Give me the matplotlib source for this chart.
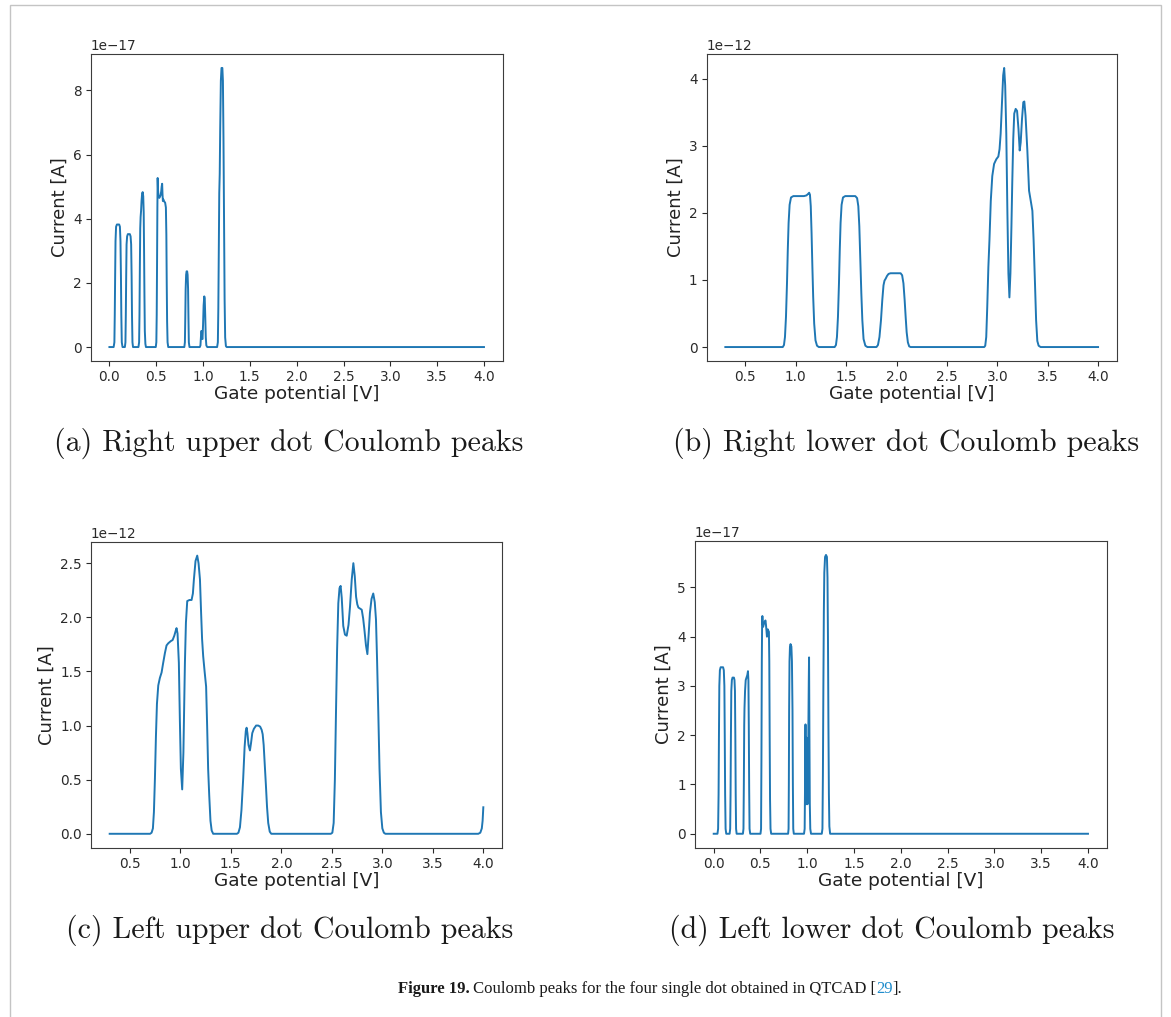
import matplotlib
matplotlib.use("Agg")
import matplotlib.pyplot as plt
from matplotlib.patches import Rectangle
import numpy as np

W, H = 1171, 1017

# (a) Right upper dot: gate potential [V] and current [1e-17 A]
ru_v = [0.000, 0.045, 0.053, 0.057, 0.061, 0.065, 0.071, 0.080, 0.104, 0.112, 0.118, 0.123, 0.127, 0.132, 0.140,
        0.165, 0.171, 0.175, 0.179, 0.183, 0.189, 0.197, 0.218, 0.226, 0.232, 0.237, 0.241, 0.246, 0.252,
        0.310, 0.317, 0.321, 0.325, 0.329, 0.333, 0.338, 0.343, 0.349, 0.355, 0.361, 0.366, 0.370, 0.374, 0.378, 0.384, 0.390,
        0.495, 0.501, 0.505, 0.509, 0.512, 0.515, 0.519, 0.524, 0.533, 0.545, 0.553, 0.558, 0.563, 0.567, 0.571, 0.576,
        0.582, 0.595, 0.603, 0.608, 0.612, 0.616, 0.621, 0.628,
        0.800, 0.806, 0.810, 0.814, 0.819, 0.824, 0.830, 0.835, 0.840, 0.844, 0.848, 0.855,
        0.965, 0.972, 0.978, 0.981, 0.986, 0.990, 0.994, 1.000, 1.006, 1.013, 1.018, 1.023, 1.029, 1.035, 1.045,
        1.150, 1.158, 1.163, 1.168, 1.173, 1.178, 1.183, 1.190, 1.197, 1.206, 1.212, 1.218, 1.224, 1.230, 1.236, 1.244, 1.252,
        4.000]
ru_i = [0, 0, 0.15, 1.0, 2.2, 3.3, 3.75, 3.82, 3.82, 3.75, 3.3, 2.2, 1.0, 0.15, 0,
        0, 0.15, 1.0, 2.2, 3.2, 3.45, 3.52, 3.52, 3.45, 3.2, 2.2, 1.0, 0.15, 0,
        0, 0.15, 1.0, 2.5, 3.7, 4.05, 4.25, 4.55, 4.78, 4.83, 4.7, 4.2, 3.0, 1.6, 0.5, 0.1, 0,
        0, 0.15, 1.0, 2.8, 4.3, 5.27, 4.9, 4.7, 4.65, 4.72, 4.85, 5.0, 5.09, 4.75, 4.55, 4.6,
        4.55, 4.5, 4.35, 3.5, 2.0, 0.8, 0.15, 0,
        0, 0.15, 0.9, 1.8, 2.25, 2.36, 2.36, 2.25, 1.8, 0.9, 0.15, 0,
        0, 0.05, 0.35, 0.5, 0.5, 0.25, 0.25, 0.7, 1.3, 1.58, 1.5, 1.0, 0.3, 0.05, 0,
        0, 0.15, 1.2, 3.0, 4.8, 5.4, 6.8, 8.3, 8.7, 8.7, 8.3, 6.5, 4.0, 1.5, 0.3, 0.03, 0,
        0]

# (b) Right lower dot: gate potential [V] and current [1e-12 A]
rl_v = [0.300, 0.870, 0.882, 0.892, 0.902, 0.912, 0.920, 0.928, 0.938, 0.952, 0.975, 1.080, 1.105, 1.120, 1.132,
        1.140, 1.148, 1.156, 1.164, 1.172, 1.182, 1.195, 1.210, 1.228,
        1.385, 1.398, 1.408, 1.418, 1.428, 1.436, 1.444, 1.454, 1.468, 1.490, 1.590, 1.608, 1.620, 1.630, 1.640,
        1.650, 1.660, 1.672, 1.690, 1.710,
        1.800, 1.815, 1.830, 1.845, 1.858, 1.870, 1.880, 1.892, 1.905, 1.920, 1.940, 2.040, 2.055, 2.068, 2.080,
        2.090, 2.100, 2.112, 2.125, 2.140,
        2.870, 2.880, 2.890, 2.900, 2.911, 2.922, 2.935, 2.950, 2.968, 2.990, 3.010, 3.022, 3.033, 3.045, 3.058,
        3.068, 3.078, 3.089, 3.100, 3.110, 3.120, 3.130, 3.140, 3.148, 3.158, 3.168, 3.182, 3.196, 3.210, 3.222,
        3.232, 3.245, 3.258, 3.268, 3.280, 3.298, 3.315, 3.335, 3.348, 3.360, 3.374, 3.385, 3.397, 3.410, 3.430,
        4.000]
rl_i = [0, 0, 0.03, 0.15, 0.45, 0.95, 1.45, 1.85, 2.12, 2.23, 2.25, 2.25, 2.26, 2.28, 2.30,
        2.27, 2.1, 1.7, 1.2, 0.75, 0.35, 0.1, 0.02, 0,
        0, 0.03, 0.15, 0.45, 0.95, 1.45, 1.85, 2.12, 2.23, 2.25, 2.25, 2.22, 2.1, 1.8, 1.3,
        0.8, 0.4, 0.12, 0.02, 0,
        0, 0.03, 0.15, 0.4, 0.7, 0.92, 0.99, 1.02, 1.06, 1.09, 1.10, 1.10, 1.07, 0.95, 0.7,
        0.45, 0.22, 0.07, 0.01, 0,
        0, 0.02, 0.15, 0.6, 1.19, 1.6, 2.18, 2.55, 2.73, 2.80, 2.84, 2.95, 3.18, 3.6, 4.05,
        4.16, 3.9, 3.18, 2.0, 1.1, 0.74, 1.1, 1.8, 2.43, 3.1, 3.48, 3.55, 3.52, 3.25, 2.93,
        3.05, 3.4, 3.65, 3.66, 3.45, 2.93, 2.33, 2.15, 2.03, 1.6, 0.94, 0.4, 0.09, 0.02, 0,
        0]

# (c) Left upper dot: gate potential [V] and current [1e-12 A]
lu_v = [0.300, 0.700, 0.715, 0.728, 0.738, 0.748, 0.758, 0.768, 0.781, 0.797, 0.814, 0.830, 0.847, 0.863, 0.880,
        0.905, 0.923, 0.940, 0.952, 0.962, 0.972, 0.985, 0.995, 1.005, 1.018, 1.030, 1.045, 1.055, 1.068, 1.090,
        1.111, 1.124, 1.134, 1.150, 1.167, 1.180, 1.194, 1.205, 1.215, 1.226, 1.240, 1.255, 1.265, 1.275, 1.286,
        1.298, 1.310, 1.325,
        1.560, 1.575, 1.590, 1.605, 1.622, 1.636, 1.648, 1.656, 1.664, 1.675, 1.689, 1.700, 1.712, 1.728, 1.750,
        1.771, 1.790, 1.805, 1.815, 1.825, 1.835, 1.847, 1.858, 1.870, 1.885, 1.900,
        2.490, 2.505, 2.518, 2.530, 2.541, 2.552, 2.564, 2.576, 2.587, 2.598, 2.613, 2.630, 2.647, 2.665, 2.680,
        2.697, 2.713, 2.727, 2.740, 2.752, 2.763, 2.780, 2.796, 2.810, 2.822, 2.838, 2.852, 2.865, 2.877, 2.893,
        2.910, 2.925, 2.937, 2.948, 2.960, 2.972, 2.986, 3.000, 3.015, 3.030,
        3.950, 3.970, 3.985, 3.993, 4.000]
lu_i = [0, 0, 0.01, 0.05, 0.2, 0.51, 0.9, 1.2, 1.37, 1.44, 1.49, 1.58, 1.67, 1.74, 1.76,
        1.78, 1.79, 1.83, 1.87, 1.90, 1.85, 1.58, 1.05, 0.6, 0.41, 0.75, 1.58, 1.95, 2.15, 2.16,
        2.16, 2.22, 2.35, 2.52, 2.57, 2.50, 2.35, 2.05, 1.80, 1.64, 1.50, 1.36, 1.0, 0.6, 0.35,
        0.12, 0.03, 0,
        0, 0.01, 0.06, 0.22, 0.51, 0.8, 0.95, 0.98, 0.93, 0.82, 0.77, 0.84, 0.93, 0.97, 1.0,
        1.0, 0.99, 0.96, 0.92, 0.82, 0.65, 0.45, 0.25, 0.1, 0.02, 0,
        0, 0.01, 0.1, 0.5, 1.12, 1.7, 2.13, 2.27, 2.29, 2.18, 1.92, 1.84, 1.83, 1.93, 2.10,
        2.35, 2.50, 2.38, 2.19, 2.12, 2.09, 2.08, 2.07, 1.99, 1.89, 1.74, 1.66, 1.85, 2.04, 2.17,
        2.22, 2.14, 1.98, 1.6, 1.12, 0.6, 0.20, 0.05, 0.01, 0,
        0, 0.01, 0.05, 0.12, 0.245]

# (d) Left lower dot: gate potential [V] and current [1e-17 A]
ll_v = [0.000, 0.040, 0.047, 0.052, 0.056, 0.060, 0.066, 0.074, 0.100, 0.108, 0.114, 0.118, 0.122, 0.127, 0.134,
        0.170, 0.176, 0.180, 0.184, 0.188, 0.194, 0.201, 0.216, 0.222, 0.227, 0.231, 0.235, 0.239, 0.245,
        0.312, 0.318, 0.322, 0.326, 0.329, 0.335, 0.342, 0.352, 0.359, 0.366, 0.371, 0.375, 0.379, 0.383, 0.390,
        0.500, 0.506, 0.510, 0.514, 0.517, 0.520, 0.524, 0.528, 0.535, 0.545, 0.553, 0.558, 0.564, 0.569, 0.574,
        0.578, 0.584, 0.590, 0.594, 0.598, 0.602, 0.607, 0.614,
        0.795, 0.800, 0.803, 0.806, 0.810, 0.815, 0.821, 0.830, 0.836, 0.842, 0.846, 0.850, 0.856,
        0.965, 0.972, 0.977, 0.981, 0.984, 0.987, 0.990, 0.993, 0.996, 0.999, 1.002, 1.005, 1.008, 1.012, 1.016,
        1.019, 1.023, 1.027, 1.032, 1.040,
        1.155, 1.162, 1.167, 1.172, 1.177, 1.182, 1.190, 1.200, 1.210, 1.216, 1.221, 1.226, 1.231, 1.236, 1.244,
        4.000]
ll_i = [0, 0, 0.1, 0.8, 2.0, 3.0, 3.32, 3.38, 3.38, 3.32, 3.0, 2.0, 0.8, 0.1, 0,
        0, 0.1, 0.8, 2.0, 2.9, 3.12, 3.17, 3.17, 3.12, 2.9, 2.0, 0.8, 0.1, 0,
        0, 0.1, 1.0, 2.2, 2.55, 2.9, 3.12, 3.18, 3.22, 3.30, 3.1, 2.2, 0.9, 0.1, 0,
        0, 0.1, 1.5, 3.5, 4.2, 4.42, 4.25, 4.2, 4.25, 4.3, 4.33, 4.25, 4.12, 4.0, 4.05,
        4.15, 4.12, 4.1, 3.5, 2.0, 0.7, 0.1, 0,
        0, 0.1, 1.0, 2.5, 3.5, 3.8, 3.85, 3.8, 3.5, 2.5, 1.0, 0.1, 0,
        0, 0.1, 1.2, 2.22, 0.6, 1.9, 0.62, 1.95, 0.6, 1.9, 0.6, 1.8, 0.65, 2.2, 3.1,
        3.58, 2.0, 0.6, 0.1, 0,
        0, 0.1, 1.2, 3.0, 4.5, 5.3, 5.62, 5.66, 5.62, 5.2, 4.0, 2.2, 0.8, 0.15, 0,
        0]

captions = ["(a) Right upper dot Coulomb peaks", "(b) Right lower dot Coulomb peaks",
            "(c) Left upper dot Coulomb peaks", "(d) Left lower dot Coulomb peaks"]

# axes box (left, top, right, bottom) in pixels and caption centre
boxes = [(90.7, 54, 502.7, 361), (706.7, 54, 1116.7, 361),
         (91, 541.7, 502, 847.7), (695, 541, 1106.7, 847.7)]
cap_centres = [(289, 443), (906, 443), (290, 930), (892, 930)]
series = [(ru_v, ru_i, 1e-17), (rl_v, rl_i, 1e-12), (lu_v, lu_i, 1e-12), (ll_v, ll_i, 1e-17)]
xtick_sets = [np.arange(0, 4.01, 0.5), np.arange(0.5, 4.01, 0.5),
              np.arange(0.5, 4.01, 0.5), np.arange(0, 4.01, 0.5)]

fig = plt.figure(figsize=(W / 100, H / 100), dpi=100)
fig.patch.set_facecolor("white")

edge = "#3c3c3c"
for (l, t, r, b), (xv, yv, sc), xt, (cx, cy), cap in zip(boxes, series, xtick_sets, cap_centres, captions):
    ax = fig.add_axes([l / W, 1 - b / H, (r - l) / W, (b - t) / H])
    ax.plot(np.array(xv), np.array(yv) * sc, color="#1f77b4", lw=1.4)
    ax.set_xticks(xt)
    ax.set_xticklabels([f"{v:.1f}" for v in xt])
    ax.set_xlabel("Gate potential [V]", fontsize=13.3, color="#222222", labelpad=1)
    ax.set_ylabel("Current [A]", fontsize=13, color="#222222", labelpad=3)
    ax.tick_params(labelsize=9.8, colors="#2a2a2a", length=3.5, width=0.8, pad=3)
    ax.yaxis.get_offset_text().set_fontsize(9.8)
    ax.yaxis.get_offset_text().set_color("#2a2a2a")
    for s in ax.spines.values():
        s.set_color(edge)
        s.set_linewidth(0.8)
    fig.text(cx / W, 1 - cy / H, cap, family="cmr10", fontsize=21.5,
             ha="center", va="center", color="#1a1a1a")

# Figure caption: bold label, plain text, blue reference number
renderer = fig.canvas.get_renderer()
cap_y = 1 - 989 / H
pieces = [("Figure 19.", dict(weight="bold", color="#1a1a1a")),
          (" Coulomb peaks for the four single dot obtained in QTCAD [", dict(color="#1a1a1a")),
          ("29", dict(color="#1f8ccc")),
          ("].", dict(color="#1a1a1a"))]
base = dict(family="Liberation Serif", fontsize=12.0, va="center", ha="left")


def text_width(s, kw):
    t = fig.text(0, 0, "|" + s + "|", **base, **kw)
    w1 = t.get_window_extent(renderer).width
    t.remove()
    t = fig.text(0, 0, "||", **base, **kw)
    w0 = t.get_window_extent(renderer).width
    t.remove()
    return w1 - w0


widths = [text_width(s, kw) for s, kw in pieces]
x = 650 - sum(widths) / 2
for (s, kw), w in zip(pieces, widths):
    fig.text(x / W, cap_y, s, **base, **kw)
    x += w

# Page frame
fig.patches.append(Rectangle((10 / W, -0.05), 1151 / W, 1.05 - 5 / H, transform=fig.transFigure,
                             fill=False, edgecolor="#c4c4c4", lw=1.0))

fig.savefig("out.png", dpi=100, facecolor="white")
